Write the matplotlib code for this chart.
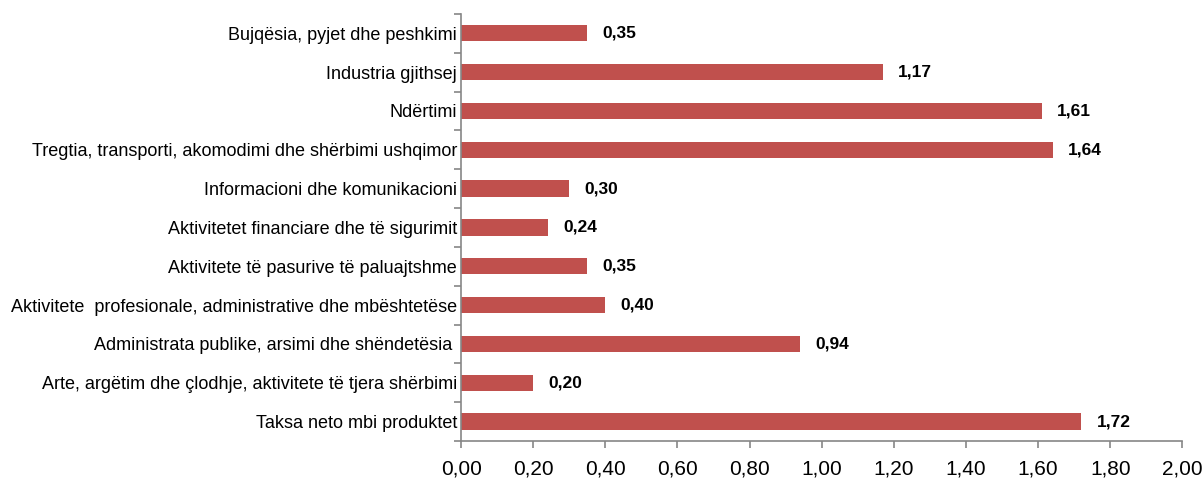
import matplotlib.pyplot as plt
import numpy as np

categories = [
    "Bujqësia, pyjet dhe peshkimi",
    "Industria gjithsej",
    "Ndërtimi",
    "Tregtia, transporti, akomodimi dhe shërbimi ushqimor",
    "Informacioni dhe komunikacioni",
    "Aktivitetet financiare dhe të sigurimit",
    "Aktivitete të pasurive të paluajtshme",
    "Aktivitete  profesionale, administrative dhe mbështetëse",
    "Administrata publike, arsimi dhe shëndetësia ",
    "Arte, argëtim dhe çlodhje, aktivitete të tjera shërbimi",
    "Taksa neto mbi produktet",
]
values = [0.35, 1.17, 1.61, 1.64, 0.30, 0.24, 0.35, 0.40, 0.94, 0.20, 1.72]
xticks = [0.0, 0.2, 0.4, 0.6, 0.8, 1.0, 1.2, 1.4, 1.6, 1.8, 2.0]

plt.rcParams['font.family'] = ['Liberation Sans', 'DejaVu Sans']

fig = plt.figure(figsize=(12.04, 4.78), dpi=100)
ax = fig.add_axes([0.383, 0.0774, 0.599, 0.8936])

y = np.arange(len(categories))
ax.barh(y, values, height=0.42, color='#C0504D')
for yi, v in zip(y, values):
    ax.annotate(f"{v:.2f}".replace('.', ','), (v, yi), xytext=(11, 0),
                textcoords='offset points', va='center', ha='left',
                fontsize=12.5, fontweight='bold')

ax.set_ylim(len(categories) - 0.5, -0.5)
ax.set_xlim(0, 2.0)
ax.set_yticks(y)
ax.set_yticklabels(categories, fontsize=13)
ax.set_yticks(np.arange(len(categories) + 1) - 0.5, minor=True)
ax.tick_params(axis='y', which='major', length=0, pad=3)
ax.tick_params(axis='y', which='minor', length=5, color='#868686', width=1.2)
ax.set_xticks(xticks)
ax.set_xticklabels([f"{t:.2f}".replace('.', ',') for t in xticks], fontsize=15)
ax.tick_params(axis='x', length=5, color='#868686', width=1.2, pad=8)

for s in ['top', 'right']:
    ax.spines[s].set_visible(False)
for s in ['left', 'bottom']:
    ax.spines[s].set_color('#868686')
    ax.spines[s].set_linewidth(1.2)

fig.savefig('out.png', dpi=100)
